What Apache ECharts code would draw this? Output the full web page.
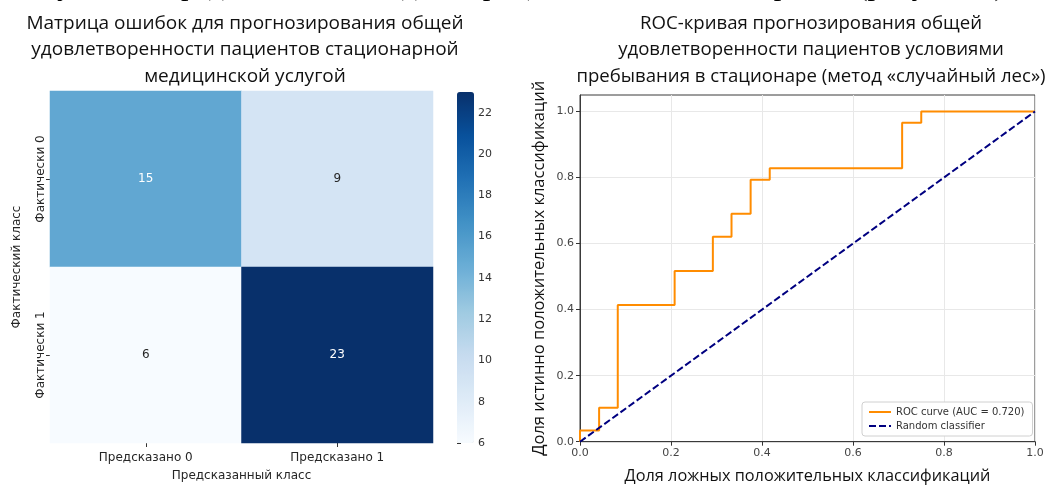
<!DOCTYPE html>
<html>
<head>
<meta charset="utf-8">
<script src="https://cdn.jsdelivr.net/npm/echarts@6/dist/echarts.min.js"></script>
<style>
html,body{margin:0;padding:0;background:#fff;}
#chart{width:1055px;height:485px;}
</style>
</head>
<body>
<div id="chart"></div>
<script>
// ---- Data ----
const predictedLabels = ['Предсказано 0', 'Предсказано 1'];
const actualLabels = ['Фактически 0', 'Фактически 1'];
const cmRow0 = [15, 9];
const cmRow1 = [6, 23];
const colorbarTicks = [6, 8, 10, 12, 14, 16, 18, 20, 22];

const rocFpr = [0.0, 0.0, 0.042, 0.042, 0.083, 0.083, 0.208, 0.208, 0.292, 0.292, 0.333, 0.333, 0.375, 0.375, 0.417, 0.417, 0.708, 0.708, 0.750, 0.750, 1.0];
const rocTpr = [0.0, 0.034, 0.034, 0.103, 0.103, 0.414, 0.414, 0.517, 0.517, 0.621, 0.621, 0.690, 0.690, 0.793, 0.793, 0.828, 0.828, 0.966, 0.966, 1.0, 1.0];
const randomX = [0, 1];
const randomY = [0, 1];
const rocTicks = [0.0, 0.2, 0.4, 0.6, 0.8, 1.0];
const aucText = 'ROC curve (AUC = 0.720)';

// ---- Build ----
const cmRows = [cmRow0, cmRow1];
const vMin = Math.min(...cmRow0, ...cmRow1);
const vMax = Math.max(...cmRow0, ...cmRow1);
const heatData = [];
cmRows.forEach((row, r) => row.forEach((v, c) => {
  heatData.push({
    value: [c, r, v],
    label: { color: v > (vMin + vMax) / 2 ? '#ffffff' : '#262626' }
  });
}));
const rocData = rocFpr.map((x, i) => [x, rocTpr[i]]);
const randData = randomX.map((x, i) => [x, randomY[i]]);

const titleFont = "'Open Sans', 'DejaVu Sans', sans-serif";
const mplFont = "'DejaVu Sans', sans-serif";

const chart = echarts.init(document.getElementById('chart'), null, {renderer: 'canvas'});
chart.setOption({
  animation: false,
  backgroundColor: '#ffffff',
  graphic: [{
    type: 'text', x: 1012, y: 2, silent: true,
    style: {
      text: 'Результаты представлены в виде матрицы ошибок и ROC-кривой (рисунок 7).',
      font: "30px 'Liberation Serif', serif", fill: '#000', align: 'right', verticalAlign: 'bottom'
    }
  }],
  title: [
    {
      text: 'Матрица ошибок для прогнозирования общей\nудовлетворенности пациентов стационарной\nмедицинской услугой',
      left: 245, top: 10, textAlign: 'center', padding: 0,
      textStyle: {fontFamily: titleFont, fontSize: 19, fontWeight: 'normal', color: '#111', lineHeight: 26.5}
    },
    {
      text: 'ROC-кривая прогнозирования общей\nудовлетворенности пациентов условиями\nпребывания в стационаре (метод «случайный лес»)',
      left: 811, top: 10, textAlign: 'center', padding: 0,
      textStyle: {fontFamily: titleFont, fontSize: 18.6, fontWeight: 'normal', color: '#111', lineHeight: 26.5}
    }
  ],
  grid: [
    {left: 50, top: 91, width: 383, height: 352, outerBoundsMode: 'none', containLabel: false},
    {left: 457, top: 92, width: 17, height: 351, outerBoundsMode: 'none', containLabel: false},
    {left: 580, top: 95, width: 455, height: 346.7, outerBoundsMode: 'none', containLabel: false,
     show: true, borderColor: '#3a3a3a', borderWidth: 1, backgroundColor: 'transparent'}
  ],
  visualMap: {
    type: 'continuous', seriesIndex: 0, min: vMin, max: vMax, calculable: false,
    orient: 'vertical', left: 457, top: 92, itemWidth: 17, itemHeight: 351, padding: 0,
    showLabel: false, hoverLink: false,
    inRange: {color: ['#f7fbff', '#deebf7', '#c6dbef', '#9ecae1', '#6baed6', '#4292c6', '#2171b5', '#08519c', '#08306b']}
  },
  legend: {
    show: true, data: [aucText, 'Random classifier'],
    orient: 'vertical', left: 862, top: 402, padding: [5, 8, 5, 6], itemGap: 4,
    itemWidth: 22, itemHeight: 10,
    itemStyle: {opacity: 0},
    backgroundColor: '#ffffff', borderColor: '#d0d0d0', borderWidth: 1, borderRadius: 3,
    textStyle: {fontFamily: mplFont, fontSize: 10, color: '#333'}
  },
  xAxis: [
    {
      gridIndex: 0, type: 'category', data: predictedLabels,
      name: 'Предсказанный класс', nameLocation: 'middle', nameGap: 27,
      nameTextStyle: {fontFamily: mplFont, fontSize: 12, color: '#262626'},
      axisLine: {show: false}, axisTick: {show: true, alignWithLabel: true, length: 4, lineStyle: {color: '#333'}},
      axisLabel: {fontFamily: mplFont, fontSize: 12, color: '#262626', margin: 9},
      splitLine: {show: false}
    },
    {gridIndex: 1, type: 'value', show: false, min: 0, max: 1},
    {
      gridIndex: 2, type: 'value', min: 0, max: 1, interval: 0.2,
      name: 'Доля ложных положительных классификаций', nameLocation: 'middle', nameGap: 27,
      nameTextStyle: {fontFamily: titleFont, fontSize: 16.3, color: '#111'},
      axisLine: {show: true, onZero: false, lineStyle: {color: '#3a3a3a'}},
      axisTick: {show: true, length: 4, lineStyle: {color: '#333'}},
      axisLabel: {fontFamily: mplFont, fontSize: 11, color: '#444', margin: 6, formatter: v => v.toFixed(1)},
      splitLine: {show: true, lineStyle: {color: '#e8e8e8', width: 1}}
    }
  ],
  yAxis: [
    {
      gridIndex: 0, type: 'category', data: actualLabels, inverse: true,
      name: 'Фактический класс', nameLocation: 'middle', nameGap: 27,
      nameTextStyle: {fontFamily: mplFont, fontSize: 12, color: '#262626'},
      axisLine: {show: false}, axisTick: {show: true, alignWithLabel: true, length: 4, lineStyle: {color: '#333'}},
      axisLabel: {fontFamily: mplFont, fontSize: 12, color: '#262626', rotate: 90, margin: 3},
      splitLine: {show: false}
    },
    {
      gridIndex: 1, type: 'value', min: vMin, max: vMax, interval: 2, position: 'right',
      axisLine: {show: false},
      axisTick: {show: true, length: 4, lineStyle: {color: '#333'}, customValues: colorbarTicks},
      axisLabel: {fontFamily: mplFont, fontSize: 11, color: '#333', margin: 4, customValues: colorbarTicks},
      splitLine: {show: false}
    },
    {
      gridIndex: 2, type: 'value', min: 0, max: 1.05, interval: 0.2,
      name: 'Доля истинно положительных классификаций', nameLocation: 'middle', nameGap: 32,
      nameTextStyle: {fontFamily: titleFont, fontSize: 16.5, color: '#111'},
      axisLine: {show: true, lineStyle: {color: '#3a3a3a'}},
      axisTick: {show: true, length: 4, lineStyle: {color: '#333'}, customValues: rocTicks},
      axisLabel: {fontFamily: mplFont, fontSize: 11, color: '#444', margin: 6, customValues: rocTicks,
        formatter: v => v.toFixed(1)},
      splitLine: {show: true, lineStyle: {color: '#e8e8e8', width: 1}}
    }
  ],
  series: [
    {
      type: 'heatmap', xAxisIndex: 0, yAxisIndex: 0, data: heatData,
      label: {show: true, fontFamily: mplFont, fontSize: 12},
      itemStyle: {borderWidth: 0}
    },
    {
      name: aucText, type: 'line', xAxisIndex: 2, yAxisIndex: 2, data: rocData,
      symbol: 'none', lineStyle: {color: '#ff8c00', width: 2}, itemStyle: {color: '#ff8c00'}
    },
    {
      name: 'Random classifier', type: 'line', xAxisIndex: 2, yAxisIndex: 2, data: randData,
      symbol: 'none', lineStyle: {color: '#000080', width: 2, type: [7, 3]}, itemStyle: {color: '#000080'}
    }
  ]
});
</script>
</body>
</html>
